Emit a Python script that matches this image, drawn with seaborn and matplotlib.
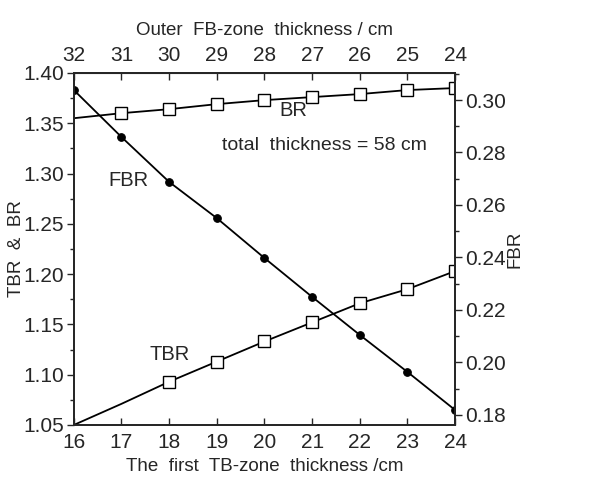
import matplotlib
matplotlib.use("Agg")
import matplotlib.pyplot as plt
from matplotlib.ticker import MultipleLocator
import numpy as np
import pandas as pd
import seaborn as sns

# first TB-zone thickness (cm), bottom axis
tb_thick = [16, 17, 18, 19, 20, 21, 22, 23, 24]
# outer FB-zone thickness (cm), top axis (total 58 cm)
fb_thick = [32, 31, 30, 29, 28, 27, 26, 25, 24]

br = [1.355, 1.360, 1.364, 1.369, 1.373, 1.376, 1.379, 1.383, 1.385]
tbr = [1.050, 1.071, 1.093, 1.113, 1.133, 1.152, 1.171, 1.185, 1.203]
fbr = [0.3038, 0.2859, 0.2688, 0.2550, 0.2398, 0.2250, 0.2105, 0.1964, 0.1819]

sns.set_style("ticks")
plt.rcParams['font.family'] = ['Liberation Sans', 'DejaVu Sans']

df = pd.DataFrame({'tb': tb_thick, 'br': br, 'tbr': tbr, 'fbr': fbr})

fig = plt.figure(figsize=(6.15, 4.93), dpi=100)
ax = fig.add_axes([0.120, 0.138, 0.620, 0.714])

sns.lineplot(data=df, x='tb', y='br', ax=ax, color='black', lw=1.3,
             marker='s', markersize=8, markerfacecolor='white',
             markeredgecolor='black', markeredgewidth=1.0,
             markevery=list(range(1, 9)))
sns.lineplot(data=df, x='tb', y='tbr', ax=ax, color='black', lw=1.3,
             marker='s', markersize=8, markerfacecolor='white',
             markeredgecolor='black', markeredgewidth=1.0,
             markevery=list(range(2, 9)))
ax.set_xlim(16, 24)
ax.set_ylim(1.05, 1.40)
ax.yaxis.set_major_locator(MultipleLocator(0.05))
ax.yaxis.set_minor_locator(MultipleLocator(0.025))
ax.set_xticks(tb_thick)
ax.yaxis.set_major_formatter(matplotlib.ticker.FormatStrFormatter('%.2f'))
ax.set_xlabel('The  first  TB-zone  thickness /cm', fontsize=13.5, labelpad=4)
ax.set_ylabel('TBR  &  BR', fontsize=13.5)
ax.yaxis.set_label_coords(-0.128, 0.5)
ax.tick_params(axis='x', direction='in', length=5, width=1, labelsize=15, pad=6)
ax.tick_params(axis='y', which='major', direction='out', length=5, width=1, labelsize=15, pad=2)
ax.tick_params(axis='y', which='minor', direction='out', length=3, width=1)

ax2 = ax.twinx()
sns.lineplot(data=df, x='tb', y='fbr', ax=ax2, color='black', lw=1.3,
             marker='o', markersize=5.5, markerfacecolor='black',
             markeredgecolor='black')
ax2.set_ylim(0.1762, 0.3103)
ax2.yaxis.set_major_locator(MultipleLocator(0.02))
ax2.yaxis.set_minor_locator(MultipleLocator(0.01))
ax2.yaxis.set_major_formatter(matplotlib.ticker.FormatStrFormatter('%.2f'))
ax2.set_ylabel('FBR', fontsize=13.5)
ax2.yaxis.set_label_coords(1.135, 0.5)
ax2.tick_params(axis='y', which='major', direction='out', length=5, width=1, labelsize=15, pad=2)
ax2.tick_params(axis='y', which='minor', direction='out', length=3, width=1)

top = ax.secondary_xaxis('top', functions=(lambda x: 48 - x, lambda x: 48 - x))
top.set_xticks(fb_thick)
top.set_xlabel('Outer  FB-zone  thickness / cm', fontsize=13.5, labelpad=8)
top.tick_params(axis='x', direction='in', length=5, width=1, labelsize=15, pad=6)

for a in (ax, ax2):
    for s in a.spines.values():
        s.set_linewidth(1.3)

ax.text(20.6, 1.372, 'BR', fontsize=14.5, ha='center', va='top')
ax.text(17.15, 1.293, 'FBR', fontsize=14.5, ha='center', va='center')
ax.text(18.0, 1.120, 'TBR', fontsize=14.5, ha='center', va='center')
ax.text(21.25, 1.328, 'total  thickness = 58 cm', fontsize=14, ha='center', va='center')

fig.savefig('out.png', dpi=100)
